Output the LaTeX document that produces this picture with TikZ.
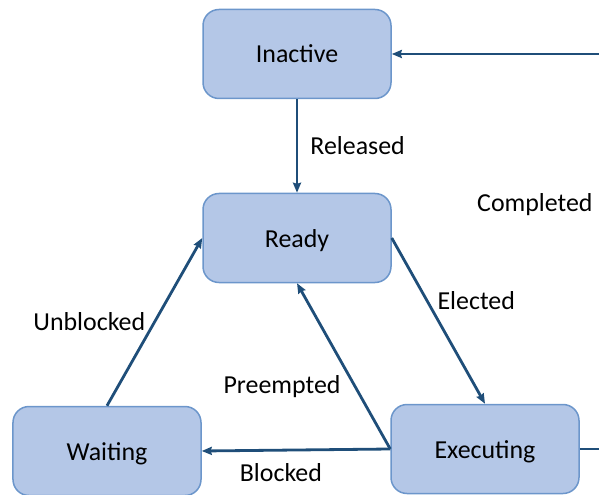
\documentclass[tikz,border=0pt]{standalone}
\usepackage{fontspec}
\setmainfont{Carlito}
\usetikzlibrary{arrows.meta}
\definecolor{boxfill}{HTML}{B4C7E7}
\definecolor{boxline}{HTML}{6C96CB}
\definecolor{arrowblue}{HTML}{1F4E79}

\begin{document}
\begin{tikzpicture}[x=1bp, y=-1bp,
  state/.style={draw=boxline, fill=boxfill, line width=1.5bp, rounded corners=16bp,
    minimum width=188bp, minimum height=89bp, text height=18bp, text depth=0bp,
    font=\fontsize{26}{30}\selectfont},
  trans/.style={draw=arrowblue, line width=2.8bp, -{Stealth[length=10bp, width=8bp, inset=1bp]}},
  lbl/.style={font=\fontsize{26}{30}\selectfont, inner sep=2bp, text height=18bp, text depth=0bp}]
\useasboundingbox (0,0) rectangle (599,495);
\node[state] (inactive) at (297,54) {Inactive};
\node[state] (ready) at (297,238) {Ready};
\node[state] (waiting) at (107,451) {Waiting};
\node[state] (executing) at (485,449) {Executing};
\coordinate (cornerB) at (604,449);
\coordinate (cornerA) at (604,54);
\draw[trans] (inactive) -- (ready) node[lbl, midway, right=10bp] {Released};
\draw[trans] (ready.east) -- (executing.north) node[lbl, pos=0.38, right=7bp] {Elected};
\draw[trans] (executing.west) -- (ready.south) node[lbl, pos=0.39, left=10bp] {Preempted};
\draw[trans] (executing.west) -- (waiting.east) node[lbl, pos=0.58, below=10bp] {Blocked};
\draw[trans] (waiting.north) -- (ready.west) node[lbl, midway, left=6bp] {Unblocked};
\draw[trans] (executing.east) -- (cornerB) -- node[lbl, pos=0.623, left=8bp] {Completed} (cornerA) -- (inactive.east);
\end{tikzpicture}
\end{document}
